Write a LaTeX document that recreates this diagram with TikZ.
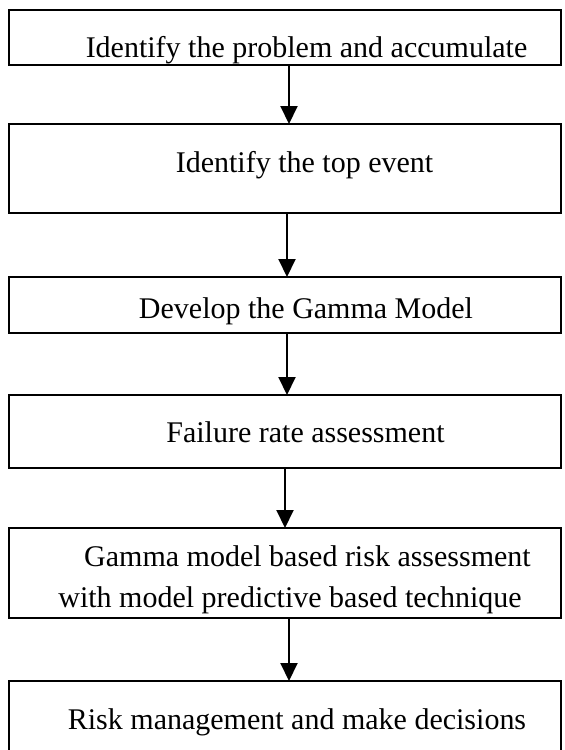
\documentclass[tikz,border=0pt]{standalone}
\usepackage{fontspec}
\setmainfont{Liberation Serif}
\usetikzlibrary{arrows.meta}
\begin{document}
\begin{tikzpicture}[x=1pt,y=1pt,
  stepbox/.style={draw=black, line width=2pt, rectangle, inner sep=0pt, outer sep=0pt, minimum width=552pt},
  lbl/.style={anchor=base, inner sep=0pt, font=\fontsize{30}{36}\selectfont},
  arr/.style={draw=black, line width=2pt, -{Triangle[width=17pt,length=18pt]}}]
\useasboundingbox (0,0) rectangle (565,-750);
\clip (0,0) rectangle (565,-750);
\fill[white] (0,0) rectangle (565,-750);
% boxes
\node[stepbox, minimum height=55pt] (b1) at (285,-37.5) {};
\node[stepbox, minimum height=89pt] (b2) at (285,-168.5) {};
\node[stepbox, minimum height=56pt] (b3) at (285,-305) {};
\node[stepbox, minimum height=73pt] (b4) at (285,-431.5) {};
\node[stepbox, minimum height=90pt] (b5) at (285,-573) {};
\node[stepbox, minimum height=89pt] (b6) at (285,-725.5) {};
% texts
\node[lbl] (t1) at (306.5,-57) {Identify the problem and accumulate};
\node[lbl] (t2) at (304.5,-172) {Identify the top event};
\node[lbl] (t3) at (306,-318) {Develop the Gamma Model};
\node[lbl] (t4) at (305.5,-442) {Failure rate assessment};
\node[lbl] (t5a) at (307.5,-566) {Gamma model based risk assessment};
\node[lbl] (t5b) at (290,-607) {with model predictive based technique};
\node[lbl] (t6) at (297,-729) {Risk management and make decisions};
% arrows
\draw[arr] ([xshift=4pt]b1.south) -- ([xshift=4pt]b2.north);
\draw[arr] ([xshift=2pt]b2.south) -- ([xshift=2pt]b3.north);
\draw[arr] ([xshift=2pt]b3.south) -- ([xshift=2pt]b4.north);
\draw[arr] ([xshift=0pt]b4.south) -- ([xshift=0pt]b5.north);
\draw[arr] ([xshift=4pt]b5.south) -- ([xshift=4pt]b6.north);
\end{tikzpicture}
\end{document}
